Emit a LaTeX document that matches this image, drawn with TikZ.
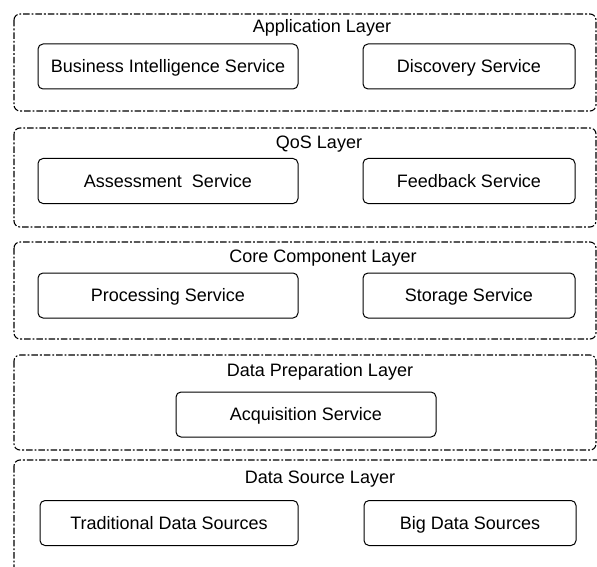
\documentclass[tikz,border=0pt]{standalone}
\usepackage{fontspec}
\setmainfont{Liberation Sans}
\begin{document}
\begin{tikzpicture}[x=1pt,y=-1pt,
  layerframe/.style={draw=black, line width=1.1pt, rounded corners=6pt,
    dash pattern=on 6.5pt off 2pt on 1.8pt off 2pt},
  layertitle/.style={anchor=base, inner sep=0pt, font=\fontsize{18}{20}\selectfont},
  service/.style={draw=black, line width=1pt, rounded corners=5pt, minimum height=45pt,
    inner sep=0pt, text height=13pt, text depth=1pt, font=\fontsize{18}{20}\selectfont},
  wide/.style={service, minimum width=260pt},
  narrow/.style={service, minimum width=212pt}]
\useasboundingbox (0,0) rectangle (597,567);
\clip (0,0) rectangle (597,567);

% layer frames
\draw[layerframe] (14,14) rectangle (596,111);
\draw[layerframe] (14,128) rectangle (596,227);
\draw[layerframe] (14,242) rectangle (596,339);
\draw[layerframe] (14,355) rectangle (596,450);
\draw[layerframe] (14,460) rectangle (604,600);

% layer titles
\node[layertitle] (tApp)  at (322,33)  {Application Layer};
\node[layertitle] (tQoS)  at (319,149) {QoS Layer};
\node[layertitle] (tCore) at (323,262) {Core Component Layer};
\node[layertitle] (tPrep) at (320,376) {Data Preparation Layer};
\node[layertitle] (tSrc)  at (320,483) {Data Source Layer};

% services
\node[wide]   (bi)   at (168,66.5)  {Business Intelligence Service};
\node[narrow] (disc) at (469,66.5)  {Discovery Service};
\node[wide]   (assm) at (168,181)   {Assessment\ \ Service};
\node[narrow] (feed) at (469,181)   {Feedback Service};
\node[wide]   (proc) at (168,295.5) {Processing Service};
\node[narrow] (stor) at (469,295.5) {Storage Service};
\node[wide]   (acq)  at (306,414.5) {Acquisition Service};
\node[service, minimum width=258pt] (trad) at (169,523) {Traditional Data Sources};
\node[narrow] (big)  at (470,523)   {Big Data Sources};
\end{tikzpicture}
\end{document}
